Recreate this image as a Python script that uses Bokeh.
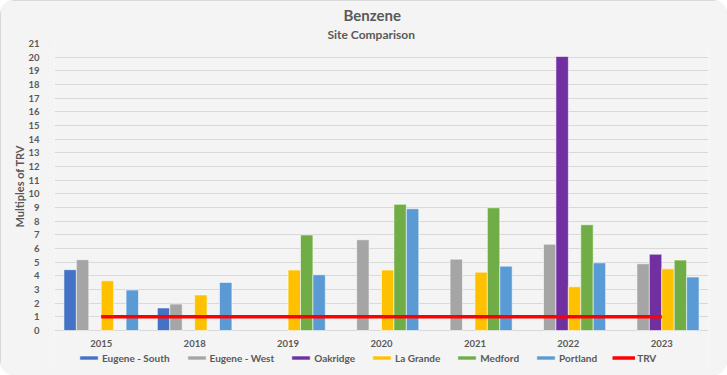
from bokeh.plotting import figure
from bokeh.models import (FactorRange, Range1d, FixedTicker, Legend, LegendItem,
                          Title, ColumnDataSource)
from bokeh.core.properties import value
from bokeh.transform import dodge
from bokeh.embed import file_html
from bokeh.resources import INLINE

years = ["2015", "2018", "2019", "2020", "2021", "2022", "2023"]
eugene_south = [4.45, 1.65, None, None, None, None, None]
eugene_west = [5.18, 1.93, None, 6.64, 5.22, 6.31, 4.88]
oakridge = [None, None, None, None, None, 20.05, 5.58]
la_grande = [3.64, 2.60, 4.42, 4.42, 4.27, 3.20, 4.51]
medford = [None, None, 6.99, 9.23, 8.98, 7.74, 5.15]
portland = [2.96, 3.52, 4.08, 8.91, 4.71, 4.95, 3.91]
trv = [1, 1, 1, 1, 1, 1, 1]
y_ticks = list(range(0, 22))

series_names = ["Eugene - South", "Eugene - West", "Oakridge", "La Grande", "Medford", "Portland"]
series_values = [eugene_south, eugene_west, oakridge, la_grande, medford, portland]
colors = ["#4472C4", "#A5A5A5", "#7030A0", "#FFC000", "#70AD47", "#5B9BD5"]

FONT = "Lato"
TEXT = "#595959"
BG = "#F4F4F4"

# frame: y=21 at px 43, y=0 at px 330 -> 13.667 px/unit; frame extends to px 368 for legend
px_per_unit = 287 / 21.0
y_start = -(368 - 330) / px_per_unit

p = figure(x_range=FactorRange(*years, range_padding=0), y_range=Range1d(y_start, 21),
           width=727, height=375, output_backend="svg", toolbar_location=None,
           min_border_left=54, min_border_right=19, min_border_top=43, min_border_bottom=7)
p.background_fill_color = BG
p.border_fill_color = BG
p.outline_line_color = None
p.styles = {"border-radius": "14px", "overflow": "hidden",
            "outline": "1px solid #CFCFCF", "outline-offset": "-1px"}

bw = 0.133
items = []
for i, (name, vals, col) in enumerate(zip(series_names, series_values, colors)):
    xs = [y for y, v in zip(years, vals) if v is not None]
    ts = [v for v in vals if v is not None]
    src = ColumnDataSource(dict(x=xs, top=ts))
    r = p.vbar(x=dodge("x", (i - 2.5) * bw, range=p.x_range), top="top", bottom=0,
               width=bw, source=src, fill_color=col, line_color="white", line_alpha=0.7,
               line_width=0.8)
    items.append(LegendItem(label=name, renderers=[r]))

tr = p.line(x=years, y=trv, line_color="#FF0000", line_width=3.5)
items.append(LegendItem(label="TRV", renderers=[tr]))

# year labels under the zero line
p.text(x=years, y=[0] * len(years), text=years, text_font=value(FONT),
       text_font_size="9.5px", text_font_style="bold", text_color=TEXT,
       text_align="center", text_baseline="middle", y_offset=13)

p.xaxis.visible = False
p.ygrid.ticker = FixedTicker(ticks=y_ticks)
p.ygrid.bounds = (0, 21)
p.ygrid.grid_line_color = "#D9D9D9"
p.xgrid.grid_line_color = None

yax = p.yaxis[0]
yax.ticker = FixedTicker(ticks=y_ticks)
yax.bounds = (0, 21)
yax.major_tick_line_color = None
yax.minor_tick_line_color = None
yax.axis_line_color = None
yax.major_label_text_font = FONT
yax.major_label_text_font_size = "9.5px"
yax.major_label_text_color = TEXT
yax.major_label_text_font_style = "bold"
yax.major_label_standoff = 9

ylabel = Title(text="Multiples of TRV", align="left", offset=141, text_font=FONT,
               text_font_size="11px", text_font_style="bold", text_color=TEXT, standoff=0)
p.add_layout(ylabel, "left")

legend = Legend(items=items, orientation="horizontal", location=(23, 4),
                label_text_font=FONT, label_text_font_size="10px", label_text_color=TEXT,
                label_text_font_style="bold", label_height=13,
                glyph_width=23, glyph_height=5, label_standoff=2, spacing=15,
                padding=0, margin=0, background_fill_alpha=0, border_line_color=None)
p.add_layout(legend)

sub = Title(text="Site Comparison", align="left", offset=273, text_font=FONT,
            text_font_size="12px", text_font_style="bold", text_color=TEXT, standoff=3)
main = Title(text="Benzene", align="left", offset=289, text_font=FONT,
             text_font_size="15px", text_font_style="bold", text_color=TEXT, standoff=0)
p.add_layout(sub, "above")
p.add_layout(main, "above")

open("out.html", "w").write(file_html(p, INLINE))
